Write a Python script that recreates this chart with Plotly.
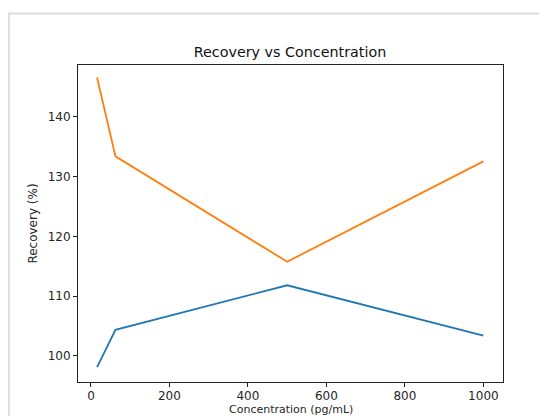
import plotly.graph_objects as go

concentration = [15.6, 62.5, 500, 1000]
recovery_a = [98.1, 104.35, 111.8, 103.35]
recovery_b = [146.6, 133.4, 115.75, 132.55]
x_title = "Concentration (pg/mL)"
y_title = "Recovery (%)"

OFF = 8  # page body margin
W, H = 547 - OFF, 416 - OFF
L, R, T, B = 78 - OFF, 503 - OFF, 65 - OFF, 382 - OFF

fig = go.Figure()
fig.add_trace(go.Scatter(x=concentration, y=recovery_a, mode="lines",
                         line=dict(color="#1f77b4", width=1.8), showlegend=False))
fig.add_trace(go.Scatter(x=concentration, y=recovery_b, mode="lines",
                         line=dict(color="#ff7f0e", width=1.8), showlegend=False))

pw, ph = R - L, B - T
def px(x):
    return (x - OFF - L) / pw
def py(y):
    return (B - (y - OFF)) / ph

# card border
fig.add_shape(type="line", xref="paper", yref="paper",
              x0=px(8), x1=px(560), y0=py(13.5), y1=py(13.5),
              line=dict(color="#dedede", width=2))
fig.add_shape(type="line", xref="paper", yref="paper",
              x0=px(9), x1=px(9), y0=py(13.5), y1=py(430),
              line=dict(color="#dedede", width=2))

font = dict(family="DejaVu Sans", size=12, color="#262626")
fig.add_annotation(text=x_title, xref="paper", yref="paper",
                   x=0.5, y=py(409.5), xanchor="center", yanchor="middle",
                   showarrow=False,
                   font=dict(family="DejaVu Sans", size=11, color="#262626"))

fig.update_layout(
    width=W, height=H,
    margin=dict(l=L, r=W - R, t=T, b=H - B, autoexpand=False),
    paper_bgcolor="white", plot_bgcolor="white",
    font=font,
    title=dict(text="Recovery vs Concentration", x=px(290), xref="paper",
               xanchor="center", y=1 - (52 - OFF) / H, yanchor="middle",
               font=dict(family="DejaVu Sans", size=14.3, color="#111")),
)
fig.update_xaxes(range=[-33, 1050], tickvals=[0, 200, 400, 600, 800, 1000],
                 automargin=False, ticklabelstandoff=-1,
                 showgrid=False, zeroline=False, showline=True, mirror=True,
                 linecolor="#222", linewidth=1, ticks="outside", ticklen=4,
                 tickcolor="#222", tickwidth=1, tickfont=font)
fig.update_yaxes(range=[95.6, 148.7], tickvals=[100, 110, 120, 130, 140],
                 automargin=False,
                 showgrid=False, zeroline=False, showline=True, mirror=True,
                 linecolor="#222", linewidth=1, ticks="outside", ticklen=4,
                 tickcolor="#222", tickwidth=1, tickfont=font,
                 title=dict(text=y_title, standoff=7, font=font))

fig.write_html("out.html")
